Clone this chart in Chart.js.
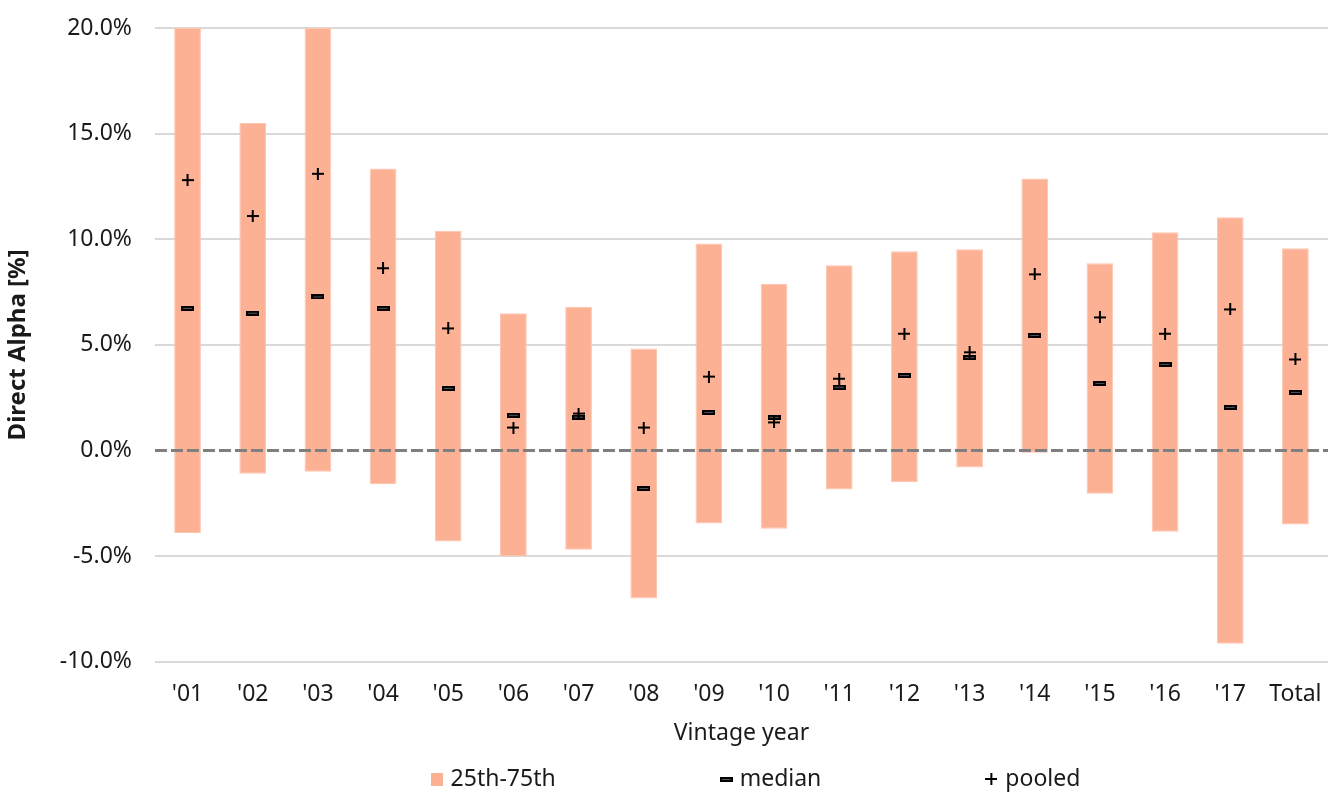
<!DOCTYPE html>
<html lang="en">
<head>
  <meta charset="UTF-8">
  <title>Direct Alpha by vintage year</title>
  <script src="https://cdn.jsdelivr.net/npm/chart.js"></script>
  <style>
    html, body { margin: 0; padding: 0; background: #fff; }
    #wrap { width: 1333px; height: 792px; }
  </style>
</head>
<body>
  <div id="wrap"><canvas id="grafico"></canvas></div>

  <script>
    // Datos (en %)
    const vintages = ["'01", "'02", "'03", "'04", "'05", "'06", "'07", "'08", "'09", "'10", "'11", "'12", "'13", "'14", "'15", "'16", "'17", "Total"];
    const p25    = [-3.9, -1.1, -1.0, -1.6, -4.3, -5.0, -4.7, -7.0, -3.45, -3.7, -1.85, -1.5, -0.8, -0.1, -2.05, -3.85, -9.15, -3.5];
    const p75    = [20.0, 15.5, 20.0, 13.35, 10.4, 6.5, 6.8, 4.83, 9.8, 7.9, 8.77, 9.43, 9.53, 12.88, 8.87, 10.33, 11.04, 9.57];
    const median = [6.73, 6.5, 7.27, 6.73, 2.94, 1.67, 1.58, -1.8, 1.8, 1.57, 3.0, 3.55, 4.4, 5.45, 3.18, 4.08, 2.04, 2.75];
    const pooled = [12.8, 11.1, 13.1, 8.63, 5.78, 1.09, 1.75, 1.09, 3.5, 1.33, 3.4, 5.53, 4.65, 8.34, 6.3, 5.53, 6.68, 4.31];
    const yTicks = [-10, -5, 0, 5, 10, 15, 20];

    const salmon = "#fdb194";

    // Marcadores
    function hacerCanvas(w, h, dibujar) {
      const c = document.createElement("canvas");
      c.width = w; c.height = h;
      dibujar(c.getContext("2d"), w, h);
      return c;
    }
    const marcaMediana = hacerCanvas(13, 5, (g, w, h) => {
      g.fillStyle = "#000"; g.fillRect(0, 0, w, h);
      g.fillStyle = "#555"; g.fillRect(2, 2, w - 4, 1);
    });
    const marcaPooled = hacerCanvas(12, 12, (g, w, h) => {
      g.strokeStyle = "#000"; g.lineWidth = 2;
      g.beginPath();
      g.moveTo(0, 6); g.lineTo(12, 6);
      g.moveTo(6, 0); g.lineTo(6, 12);
      g.stroke();
    });
    const cuadro = hacerCanvas(12, 13, (g, w, h) => {
      g.fillStyle = salmon; g.fillRect(0, 0, w, h);
    });

    // Linea punteada en 0
    const lineaCero = {
      id: "lineaCero",
      afterDatasetsDraw(chart) {
        const y = chart.scales.y.getPixelForValue(0);
        const a = chart.chartArea;
        const ctx = chart.ctx;
        ctx.save();
        ctx.strokeStyle = "#7f7f7f";
        ctx.lineWidth = 3;
        ctx.setLineDash([12, 4]);
        ctx.beginPath();
        ctx.moveTo(a.left, y);
        ctx.lineTo(a.right, y);
        ctx.stroke();
        ctx.restore();
      }
    };

    // Leyenda espaciada abajo
    const leyenda = {
      id: "leyenda",
      afterDraw(chart) {
        const ctx = chart.ctx;
        const gap = 164;
        ctx.save();
        ctx.font = "23px 'Noto Sans'";
        const items = chart.data.datasets.map(d => ({ text: d.label, img: d.legendImg }));
        const widths = items.map(it => 20 + ctx.measureText(it.text).width);
        const total = widths.reduce((s, w) => s + w, 0) + gap * (items.length - 1);
        const a = chart.chartArea;
        let x = (a.left + a.right) / 2 - total / 2 + 14;
        const y = chart.height - 13;
        ctx.fillStyle = "#1a1a1a";
        ctx.textBaseline = "middle";
        items.forEach((it, i) => {
          ctx.drawImage(it.img, x, Math.round(y - it.img.height / 2));
          ctx.fillText(it.text, x + 20, y);
          x += widths[i] + gap;
        });
        ctx.restore();
      }
    };

    Chart.defaults.font.family = "'Noto Sans', sans-serif";
    Chart.defaults.color = "#1a1a1a";

    const ctx = document.getElementById("grafico").getContext("2d");
    new Chart(ctx, {
      type: "bar",
      data: {
        labels: vintages,
        datasets: [
          {
            label: "25th-75th",
            data: p25.map((v, i) => [v, p75[i]]),
            backgroundColor: salmon,
            borderColor: "#fdc4ae",
            borderWidth: 1,
            borderSkipped: false,
            barPercentage: 0.41,
            categoryPercentage: 1,
            order: 3,
            legendImg: cuadro
          },
          {
            type: "line",
            label: "median",
            data: median,
            showLine: false,
            pointStyle: marcaMediana,
            order: 2,
            legendImg: marcaMediana
          },
          {
            type: "line",
            label: "pooled",
            data: pooled,
            showLine: false,
            pointStyle: marcaPooled,
            order: 1,
            legendImg: marcaPooled
          }
        ]
      },
      options: {
        responsive: true,
        maintainAspectRatio: false,
        animation: false,
        layout: { padding: { top: 28, right: 0, bottom: 41, left: 0 } },
        plugins: {
          legend: { display: false },
          tooltip: { enabled: false }
        },
        scales: {
          x: {
            grid: { display: false },
            border: { display: false },
            ticks: { font: { size: 23 }, padding: 11 },
            title: { display: true, text: "Vintage year", font: { size: 23 }, padding: { top: 0 } }
          },
          y: {
            min: -10,
            max: 20,
            afterBuildTicks: s => { s.ticks = yTicks.map(v => ({ value: v })); },
            afterFit: s => { s.paddingTop = 0; },
            grid: {
              drawTicks: false,
              color: c => c.tick && c.tick.value === 0 ? "rgba(0,0,0,0)" : "#d9d9d9",
              lineWidth: 2
            },
            border: { display: false },
            ticks: {
              font: { size: 23 },
              padding: 23,
              callback: v => v.toFixed(1) + "%"
            },
            title: { display: true, text: "Direct Alpha [%]", font: { size: 24, weight: "bold" }, padding: { bottom: 4 } }
          }
        }
      },
      plugins: [lineaCero, leyenda]
    });
  </script>
</body>
</html>
